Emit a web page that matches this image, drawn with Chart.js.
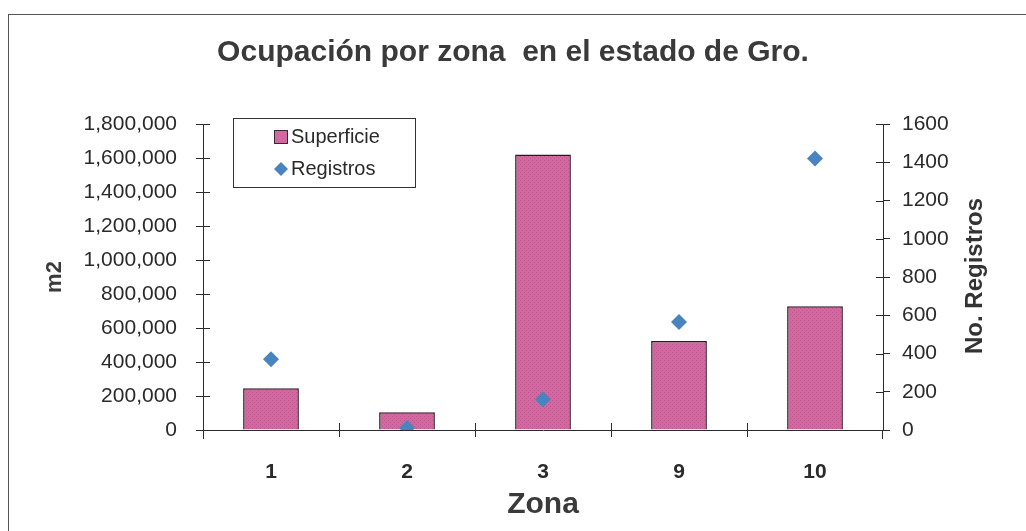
<!DOCTYPE html>
<html>
<head>
<meta charset="utf-8">
<script src="https://cdn.jsdelivr.net/npm/chart.js@4"></script>
<style>
  html, body { margin: 0; padding: 0; background: #fff; }
  #wrap { position: relative; width: 1026px; height: 531px; overflow: hidden; }
  #frame { position: absolute; left: 8px; top: 14px; width: 1030px; height: 530px;
           border-left: 1px solid #555; border-top: 1px solid #555; pointer-events: none; }
</style>
</head>
<body>
<div id="wrap">
  <canvas id="chart" width="1026" height="531"></canvas>
  <div id="frame"></div>
</div>
<script>
var ctx = document.getElementById("chart").getContext("2d");

var zonas = ["1", "2", "3", "9", "10"];
var superficie = [245000, 105000, 1620000, 523000, 728000];
var registros = [370, 10, 160, 565, 1420];

var leftTicks = [0, 200000, 400000, 600000, 800000, 1000000, 1200000, 1400000, 1600000, 1800000];
var rightTicks = [0, 200, 400, 600, 800, 1000, 1200, 1400, 1600];

var pink = "#d268a0";
var blue = "#4a84bf";
var ink = "#2a2a2a";
var font = "'Liberation Sans', Arial, sans-serif";

// dotted fill like the scanned bars
function barPattern() {
  var c = document.createElement("canvas");
  c.width = 4; c.height = 4;
  var g = c.getContext("2d");
  g.fillStyle = pink;
  g.fillRect(0, 0, 4, 4);
  g.fillStyle = "#bf5690";
  g.fillRect(0, 0, 1, 1);
  g.fillRect(2, 2, 1, 1);
  return ctx.createPattern(c, "repeat");
}

// ticks that cross the axis line, plus the rotated right title and legend box
var extras = {
  id: "extras",
  afterDraw: function (chart) {
    var c = chart.ctx;
    var a = chart.chartArea;
    var x = chart.scales.x, y = chart.scales.y, y1 = chart.scales.y1;
    c.save();
    c.strokeStyle = ink;
    c.lineWidth = 1;
    c.beginPath();
    y.ticks.forEach(function (t, i) {
      var py = Math.round(y.getPixelForTick(i)) + 0.5;
      c.moveTo(a.left, py); c.lineTo(a.left + 7, py);
    });
    y1.ticks.forEach(function (t, i) {
      var py = Math.round(y1.getPixelForTick(i)) + 0.5;
      c.moveTo(a.right - 7, py); c.lineTo(a.right, py);
    });
    for (var i = 1; i < zonas.length; i++) {
      var px = Math.round((x.getPixelForValue(i - 1) + x.getPixelForValue(i)) / 2) + 0.5;
      c.moveTo(px, a.bottom - 7); c.lineTo(px, a.bottom + 7);
    }
    c.moveTo(a.left - 7, a.bottom + 0.5); c.lineTo(a.left, a.bottom + 0.5);
    c.moveTo(a.left + 0.5, a.bottom); c.lineTo(a.left + 0.5, a.bottom + 9);
    c.moveTo(a.right - 0.5, a.bottom); c.lineTo(a.right - 0.5, a.bottom + 9);
    c.stroke();

    // right axis title, reading bottom to top
    c.fillStyle = "#333";
    c.font = "bold 24px " + font;
    c.textAlign = "center";
    c.textBaseline = "middle";
    c.translate(975, 276);
    c.rotate(-Math.PI / 2);
    c.fillText("No. Registros", 0, 0);
    c.restore();

    // legend
    c.save();
    c.strokeStyle = "#333";
    c.lineWidth = 1;
    c.strokeRect(233.5, 118.5, 182, 69);
    c.fillStyle = pink;
    c.fillRect(274, 130, 13, 13);
    c.strokeStyle = "#3a2a30";
    c.strokeRect(274.5, 130.5, 13, 13);
    c.fillStyle = blue;
    c.beginPath();
    c.moveTo(281, 162); c.lineTo(288, 169); c.lineTo(281, 176); c.lineTo(274, 169);
    c.closePath(); c.fill();
    c.fillStyle = ink;
    c.font = "20px " + font;
    c.textAlign = "left";
    c.textBaseline = "middle";
    c.fillText("Superficie", 291, 137);
    c.fillText("Registros", 291, 169);
    c.restore();
  }
};

var chart = new Chart(ctx, {
  data: {
    labels: zonas,
    datasets: [
      {
        type: "scatter",
        label: "Registros",
        data: registros,
        yAxisID: "y1",
        pointStyle: "rectRot",
        pointRadius: 8,
        backgroundColor: blue,
        borderColor: blue,
        borderWidth: 0,
        showLine: false
      },
      {
        type: "bar",
        label: "Superficie",
        data: superficie,
        yAxisID: "y",
        backgroundColor: barPattern(),
        borderColor: "#2b1a22",
        borderWidth: 1.5,
        barPercentage: 0.41,
        categoryPercentage: 1
      }
    ]
  },
  options: {
    responsive: false,
    animation: false,
    layout: { padding: { left: 0, right: 0, top: 0, bottom: 0 } },
    plugins: {
      legend: { display: false },
      tooltip: { enabled: false },
      title: {
        display: true,
        text: "Ocupación por zona  en el estado de Gro.",
        color: "#3a3a3a",
        font: { family: font, size: 30, weight: "bold" },
        padding: { top: 35, bottom: 53 }
      }
    },
    scales: {
      x: {
        type: "category",
        offset: true,
        grid: { offset: true, display: false },
        border: { display: true, color: ink, width: 1 },
        ticks: { color: ink, padding: 22, font: { family: font, size: 21, weight: "bold" } },
        title: {
          display: true, text: "Zona", color: "#3a3a3a",
          font: { family: font, size: 30, weight: "bold" },
          padding: { top: 0, bottom: 8 }
        },
        afterFit: function (s) { s.height = 101; }
      },
      y: {
        position: "left",
        min: 0, max: 1800000,
        afterBuildTicks: function (s) { s.ticks = leftTicks.map(function (v) { return { value: v }; }); },
        grid: { drawOnChartArea: false, drawTicks: true, tickLength: 7, color: ink },
        border: { display: true, color: ink, width: 1 },
        ticks: {
          color: ink, padding: 19,
          font: { family: font, size: 21 },
          callback: function (v) { return v.toLocaleString("en-US"); }
        },
        title: {
          display: true, text: "m2", color: "#3a3a3a",
          font: { family: font, size: 22, weight: "bold" },
          padding: { top: 42, bottom: 0 }
        },
        afterFit: function (s) { s.width = 203; }
      },
      y1: {
        position: "right",
        min: 0, max: 1600,
        afterBuildTicks: function (s) { s.ticks = rightTicks.map(function (v) { return { value: v }; }); },
        grid: { drawOnChartArea: false, drawTicks: true, tickLength: 7, color: ink },
        border: { display: true, color: ink, width: 1 },
        ticks: {
          color: ink, padding: 12,
          font: { family: font, size: 21 },
          callback: function (v) { return String(v); }
        },
        afterFit: function (s) { s.width = 143; }
      }
    }
  },
  plugins: [extras]
});
</script>
</body>
</html>
